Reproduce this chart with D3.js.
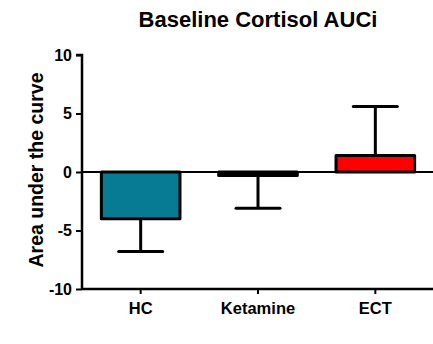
<!DOCTYPE html>
<html lang="en">
<head>
<meta charset="UTF-8">
<title>Baseline Cortisol AUCi</title>
<script src="https://d3js.org/d3.v7.min.js"></script>
<style>
  body { margin: 0; background: #fff; }
  text { font-family: "Liberation Sans", Arial, sans-serif; font-weight: bold; fill: #000; }
</style>
</head>
<body>
<script>
const groups = ["HC", "Ketamine", "ECT"];
const means = [-4.0, -0.3, 1.4];
const errors = [2.8, 2.8, 4.2];
const colors = ["#077b93", "#000000", "#ff0000"];
const yTicks = [-10, -5, 0, 5, 10];

const width = 433, height = 344;
const svg = d3.select("body").append("svg")
  .attr("width", width).attr("height", height);

const x = d3.scaleBand().domain(groups).range([82, 434]).paddingInner(0.33).paddingOuter(0.165);
const y = d3.scaleLinear().domain([-10, 10]).range([289, 55]);

// y axis (plain hyphen minus like the original)
const yAxis = svg.append("g").attr("transform", "translate(82,0)")
  .call(d3.axisLeft(y).tickValues(yTicks).tickFormat(d => String(d)).tickSize(6).tickPadding(4));
yAxis.select(".domain").attr("stroke-width", 2.5).attr("d", `M-6,${y(10)}H0V${y(-10)}`);
yAxis.selectAll(".tick line").attr("stroke-width", 2);
yAxis.selectAll(".tick text").style("font-size", "16px");

// x axis at bottom
const xAxis = svg.append("g").attr("transform", `translate(0,${y(-10)})`)
  .call(d3.axisBottom(x).tickSize(5).tickPadding(8));
xAxis.select(".domain").attr("stroke-width", 2.5).attr("d", `M82,0H434`);
xAxis.selectAll(".tick line").attr("stroke-width", 2);
xAxis.selectAll(".tick text").style("font-size", "16.5px");

// zero line
svg.append("line")
  .attr("x1", 82).attr("x2", 434)
  .attr("y1", y(0)).attr("y2", y(0))
  .attr("stroke", "#000").attr("stroke-width", 2);

// error bars (one-sided, away from zero)
const data = groups.map((g, i) => ({ g, m: means[i], e: errors[i], c: colors[i] }));
const eb = svg.append("g");
data.forEach(d => {
  const cx = x(d.g) + x.bandwidth() / 2;
  const end = d.m < 0 ? d.m - d.e : d.m + d.e;
  eb.append("line").attr("x1", cx).attr("x2", cx)
    .attr("y1", y(d.m)).attr("y2", y(end))
    .attr("stroke", "#000").attr("stroke-width", 3);
  eb.append("line").attr("x1", cx - 22).attr("x2", cx + 22)
    .attr("y1", y(end)).attr("y2", y(end))
    .attr("stroke", "#000").attr("stroke-width", 3).attr("stroke-linecap", "round");
});

// bars
svg.append("g").selectAll("rect").data(data).join("rect")
  .attr("x", d => x(d.g))
  .attr("width", x.bandwidth())
  .attr("y", d => y(Math.max(0, d.m)))
  .attr("height", d => Math.abs(y(d.m) - y(0)))
  .attr("fill", d => d.c)
  .attr("stroke", "#000").attr("stroke-width", 3)
  .attr("stroke-linejoin", "round");

// title
svg.append("text").attr("x", 258).attr("y", 27)
  .attr("text-anchor", "middle").style("font-size", "22px")
  .text("Baseline Cortisol AUCi");

// y label
svg.append("text")
  .attr("transform", `translate(43,${y(0) - 2}) rotate(-90)`)
  .attr("text-anchor", "middle").style("font-size", "19.5px")
  .text("Area under the curve");
</script>
</body>
</html>
